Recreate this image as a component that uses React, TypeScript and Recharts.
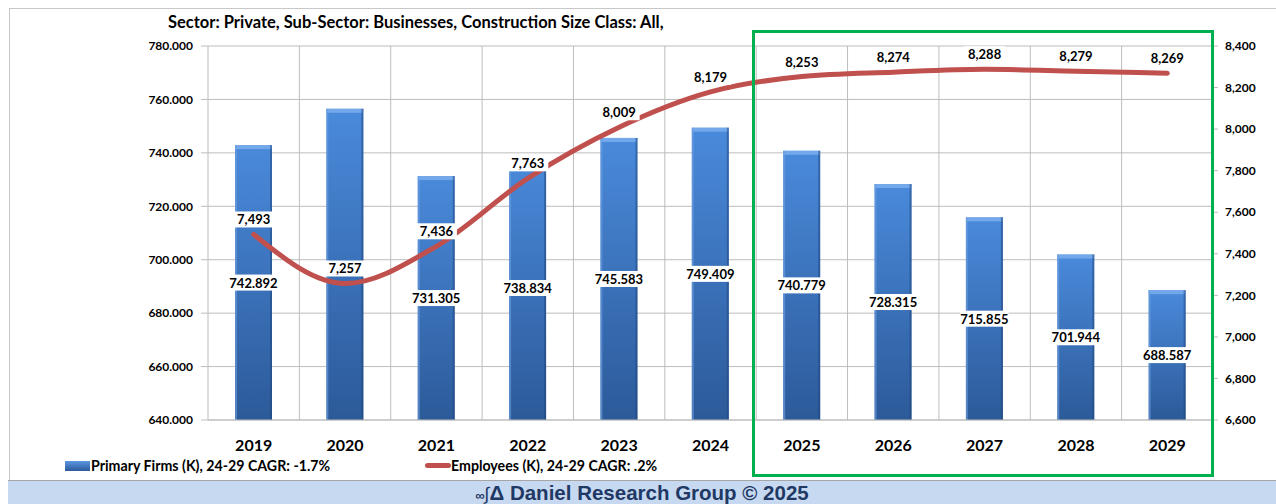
import React from "react";
import {
  ComposedChart,
  Bar,
  Line,
  XAxis,
  YAxis,
  CartesianGrid,
  LabelList,
} from "recharts";

const years = ["2019", "2020", "2021", "2022", "2023", "2024", "2025", "2026", "2027", "2028", "2029"];
const firms = [742.892, 756.5, 731.305, 738.834, 745.583, 749.409, 740.779, 728.315, 715.855, 701.944, 688.587];
const employees = [7493, 7257, 7436, 7763, 8009, 8179, 8253, 8274, 8288, 8279, 8269];
const leftTicks = [640, 660, 680, 700, 720, 740, 760, 780];
const rightTicks = [6600, 6800, 7000, 7200, 7400, 7600, 7800, 8000, 8200, 8400];

const data = years.map((year, i) => ({ year, firms: firms[i], employees: employees[i] }));

const FONT = "Lato, 'Open Sans', sans-serif";
const GRID = "#BDBDBD";

const BarShape = (props: any) => {
  const { x, y, width, height } = props;
  if (!height || height <= 0) return null;
  return (
    <g>
      <rect x={x} y={y} width={width} height={height} fill="url(#barFill)" />
      <rect x={x} y={y} width={width} height={Math.min(4, height)} fill="#7DB0EE" opacity={0.8} />
      <rect x={x} y={y} width={2} height={height} fill="#6C9FE0" opacity={0.6} />
      <rect x={x + width - 2} y={y} width={2} height={height} fill="#1E4479" opacity={0.5} />
    </g>
  );
};

const BarLabel = (props: any) => {
  const { x, y, width, height, value, index } = props;
  // the 2020 value label is covered by the employees label in the original
  if (index === 1) return null;
  const cx = x + width / 2;
  const cy = y + height / 2;
  const text = value.toFixed(3);
  const w = text.length * 6.6 + 2;
  return (
    <g>
      <rect x={cx - w / 2} y={cy - 8} width={w} height={16} fill="#fff" />
      <text x={cx} y={cy} textAnchor="middle" dominantBaseline="central" fontFamily={FONT} fontWeight={700} fontSize={13} fill="#000">
        {text}
      </text>
    </g>
  );
};

const LineLabel = (props: any) => {
  const { x, y, value } = props;
  const text = value.toLocaleString("en-US");
  const cy = y - 15;
  const w = text.length * 7 + 6;
  return (
    <g>
      <rect x={x - w / 2} y={cy - 8} width={w} height={16} fill="#fff" />
      <text x={x} y={cy} textAnchor="middle" dominantBaseline="central" fontFamily={FONT} fontWeight={700} fontSize={13} fill="#000">
        {text}
      </text>
    </g>
  );
};

export default function App() {
  return (
    <div style={{ position: "absolute", left: 0, top: 0, width: 1276, height: 504, background: "#fff", overflow: "hidden", fontFamily: FONT }}>
      <div style={{ position: "absolute", left: 9, top: 8, width: 1300, height: 471, border: "1px solid #C8C8C8" }} />
      <div style={{ position: "absolute", left: 168, top: 11, fontSize: 16.5, lineHeight: "22px", fontWeight: 700, color: "#000", whiteSpace: "nowrap" }}>
        Sector: Private, Sub-Sector: Businesses, Construction Size Class: All,
      </div>
      <div style={{ position: "absolute", left: 0, top: 0 }}>
        <ComposedChart width={1276} height={480} data={data} margin={{ top: 46, right: 0, bottom: 30, left: 0 }}>
          <defs>
            <linearGradient id="barFill" x1="0" y1="0" x2="0" y2="1">
              <stop offset="0%" stopColor="#4A8ADB" />
              <stop offset="100%" stopColor="#2C5A99" />
            </linearGradient>
          </defs>
          <CartesianGrid
            yAxisId="left"
            stroke={GRID}
            strokeWidth={1}
            verticalCoordinatesGenerator={({ offset }: any) =>
              years.slice(1).map((_, i) => offset.left + ((i + 1) * offset.width) / years.length)
            }
          />
          <XAxis
            dataKey="year"
            height={30}
            axisLine={{ stroke: GRID }}
            tickLine={false}
            tickMargin={14}
            tick={{ fontFamily: FONT, fontWeight: 700, fontSize: 16, fill: "#000" }}
          />
          <YAxis
            yAxisId="left"
            orientation="left"
            width={208}
            domain={[640, 780]}
            ticks={leftTicks}
            allowDataOverflow
            axisLine={{ stroke: GRID }}
            tickLine={{ stroke: GRID }}
            tickSize={7}
            tickMargin={8}
            tickFormatter={(v: number) => v.toFixed(3)}
            tick={{ fontFamily: FONT, fontWeight: 700, fontSize: 12, fill: "#000" }}
          />
          <YAxis
            yAxisId="right"
            orientation="right"
            width={63}
            domain={[6600, 8400]}
            ticks={rightTicks}
            axisLine={{ stroke: GRID }}
            tickLine={{ stroke: GRID }}
            tickSize={5}
            tickMargin={7}
            tickFormatter={(v: number) => v.toLocaleString("en-US")}
            tick={{ fontFamily: FONT, fontWeight: 700, fontSize: 12, fill: "#000" }}
          />
          <Bar yAxisId="left" dataKey="firms" barSize={37} shape={<BarShape />} isAnimationActive={false}>
            <LabelList dataKey="firms" content={<BarLabel />} />
          </Bar>
          <Line
            yAxisId="right"
            type="monotone"
            dataKey="employees"
            stroke="#C0504D"
            strokeWidth={5}
            strokeLinecap="round"
            dot={false}
            activeDot={false}
            isAnimationActive={false}
          >
            <LabelList dataKey="employees" content={<LineLabel />} />
          </Line>
        </ComposedChart>
      </div>
      <div style={{ position: "absolute", left: 752, top: 30, width: 456, height: 441, border: "3px solid #00B050" }} />
      <div style={{ position: "absolute", left: 65, top: 461, width: 25, height: 10, background: "linear-gradient(#5B97E2, #2C5A99)" }} />
      <div style={{ position: "absolute", left: 91, top: 456, fontSize: 14.2, fontWeight: 700, color: "#000", whiteSpace: "nowrap", lineHeight: "20px" }}>
        Primary Firms (K), 24-29 CAGR: -1.7%
      </div>
      <div style={{ position: "absolute", left: 425, top: 463, width: 26, height: 5, borderRadius: 3, background: "#C0504D" }} />
      <div style={{ position: "absolute", left: 451, top: 456, fontSize: 14.2, fontWeight: 700, color: "#000", whiteSpace: "nowrap", lineHeight: "20px" }}>
        Employees (K), 24-29 CAGR: .2%
      </div>
      <div
        style={{
          position: "absolute",
          left: 8,
          top: 480,
          width: 1300,
          height: 23,
          background: "#C6D9F1",
          borderTop: "1px solid #A6A6A6",
          borderBottom: "1px solid #A6A6A6",
        }}
      />
      <div
        style={{
          position: "absolute",
          left: 0,
          width: 1284,
          top: 481,
          height: 23,
          textAlign: "center",
          fontFamily: "'Liberation Sans', Arial, sans-serif",
          fontWeight: 700,
          fontSize: 20.5,
          lineHeight: "23px",
          color: "#1F3864",
          whiteSpace: "nowrap",
        }}
      >
        <span style={{ fontSize: 13 }}>∞</span>
        <span style={{ fontSize: 18, fontWeight: 400 }}>∫</span>Δ Daniel Research Group © 2025
      </div>
    </div>
  );
}
